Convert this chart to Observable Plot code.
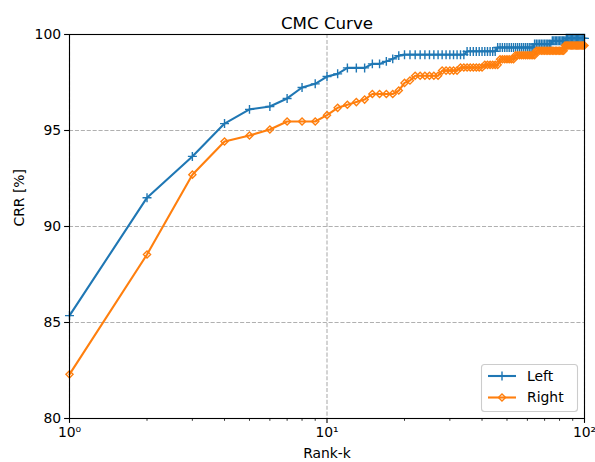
<!DOCTYPE html>
<html>
<head>
<meta charset="utf-8">
<script src="https://cdn.jsdelivr.net/npm/d3@7"></script>
<script src="https://cdn.jsdelivr.net/npm/@observablehq/plot@0.6"></script>
<style>
  body { margin: 0; background: #fff; }
  #wrap { position: relative; width: 595px; height: 462px; font-family: "DejaVu Sans", sans-serif; }
  #legend { position: absolute; left: 0; top: 0; pointer-events: none; }
</style>
</head>
<body>
<div id="wrap"></div>
<script>
// ---- data ----
const ranks = [1,2,3,4,5,6,7,8,9,10,11,12,13,14,15,16,17,18,19,20,
  21,22,23,24,25,26,27,28,29,30,31,32,33,34,35,36,37,38,39,40,
  41,42,43,44,45,46,47,48,49,50,51,52,53,54,55,56,57,58,59,60,
  61,62,63,64,65,66,67,68,69,70,71,72,73,74,75,76,77,78,79,80,
  81,82,83,84,85,86,87,88,89,90,91,92,93,94,95,96,97,98,99,100];

const leftCRR = [85.36,91.50,93.65,95.36,96.10,96.25,96.67,97.24,97.43,97.81,
  97.95,98.26,98.26,98.26,98.47,98.47,98.60,98.73,98.90,98.95,
  98.95,98.95,98.95,98.95,98.95,98.95,98.95,98.95,98.95,98.95,
  98.95,98.95,98.95,98.95,99.12,99.12,99.12,99.12,99.12,99.12,
  99.12,99.12,99.12,99.12,99.12,99.32,99.32,99.32,99.32,99.32,
  99.32,99.32,99.32,99.32,99.32,99.32,99.32,99.32,99.32,99.32,
  99.32,99.32,99.32,99.50,99.50,99.50,99.50,99.50,99.50,99.50,
  99.50,99.50,99.50,99.50,99.67,99.67,99.67,99.67,99.67,99.67,
  99.67,99.67,99.67,99.67,99.80,99.80,99.80,99.80,99.80,99.80,
  99.80,99.80,99.80,99.80,99.80,99.80,99.80,99.80,99.80,99.80];

const rightCRR = [82.30,88.54,92.70,94.43,94.74,95.05,95.47,95.47,95.47,95.80,
  96.18,96.34,96.48,96.61,96.90,96.90,96.90,96.90,97.08,97.48,
  97.60,97.85,97.85,97.85,97.85,97.85,97.85,98.12,98.12,98.12,
  98.12,98.12,98.28,98.28,98.28,98.28,98.28,98.28,98.28,98.28,
  98.42,98.42,98.42,98.42,98.42,98.42,98.71,98.71,98.71,98.71,
  98.71,98.71,98.71,98.92,98.92,98.92,98.92,98.92,98.92,98.92,
  98.92,98.92,98.92,98.92,99.15,99.15,99.15,99.15,99.15,99.15,
  99.15,99.15,99.15,99.15,99.15,99.15,99.15,99.15,99.15,99.15,
  99.15,99.15,99.15,99.43,99.43,99.43,99.43,99.43,99.43,99.43,
  99.43,99.43,99.43,99.43,99.43,99.43,99.43,99.43,99.43,99.43];

const seriesNames = ["Left", "Right"];
const seriesColors = ["#1f77b4", "#ff7f0e"];
const xMajorTicks = [1, 10, 100];
const xMajorLabels = ["10⁰", "10¹", "10²"];
const xMinorTicks = [2,3,4,5,6,7,8,9,20,30,40,50,60,70,80,90];
const yTicks = [80, 85, 90, 95, 100];
const titleText = "CMC Curve";
const xLabel = "Rank-k";
const yLabel = "CRR [%]";

// ---- build table ----
const leftData = ranks.map((r, i) => ({rank: r, crr: leftCRR[i], series: seriesNames[0]}));
const rightData = ranks.map((r, i) => ({rank: r, crr: rightCRR[i], series: seriesNames[1]}));

const FS = 13.9;
const PLUS_R = 3.0, DIAM_R = 3.2;
const chart = Plot.plot({
  width: 595,
  height: 462,
  marginLeft: 69,
  marginRight: 11,
  marginTop: 34,
  marginBottom: 44,
  style: {fontFamily: "DejaVu Sans, sans-serif", fontSize: FS + "px", background: "white", color: "black", overflow: "visible"},
  x: {type: "log", domain: [1, 100], label: null},
  y: {domain: [80, 100], label: null},
  marks: [
    Plot.gridX(xMajorTicks, {stroke: "#b0b0b0", strokeOpacity: 1, strokeWidth: 1.1, strokeDasharray: "4.1,1.8"}),
    Plot.gridY(yTicks, {stroke: "#b0b0b0", strokeOpacity: 1, strokeWidth: 1.1, strokeDasharray: "4.1,1.8"}),
    Plot.line(leftData, {x: "rank", y: "crr", stroke: seriesColors[0], strokeWidth: 2.1}),
    Plot.dot(leftData, {x: "rank", y: "crr", symbol: "plus", r: PLUS_R, stroke: seriesColors[0], strokeWidth: 1.4}),
    Plot.line(rightData, {x: "rank", y: "crr", stroke: seriesColors[1], strokeWidth: 2.1}),
    Plot.dot(rightData, {x: "rank", y: "crr", symbol: "diamond2", r: DIAM_R, fill: "none", stroke: seriesColors[1], strokeWidth: 1.4}),
    Plot.frame({stroke: "black", strokeWidth: 1.1}),
    Plot.axisX(xMajorTicks, {tickSize: 4.9, tickPadding: 3.5, strokeWidth: 1.1, tickFormat: d => xMajorLabels[xMajorTicks.indexOf(d)], fontSize: FS, label: null}),
    Plot.axisX(xMinorTicks, {tickSize: 2.8, strokeWidth: 0.8, tickFormat: () => "", label: null}),
    Plot.axisY(yTicks, {tickSize: 4.9, tickPadding: 3.5, strokeWidth: 1.1, fontSize: FS, label: null}),
    Plot.text([titleText], {frameAnchor: "top", dy: -17, fontSize: 16.7, fill: "black"}),
    Plot.text([xLabel], {frameAnchor: "bottom", dy: 39, fontSize: FS, fill: "black"}),
    Plot.text([yLabel], {frameAnchor: "left", dx: -50, rotate: -90, fontSize: FS, fill: "black"})
  ]
});

const wrap = document.getElementById("wrap");
wrap.appendChild(chart);

// ---- legend overlay (lower right, inside axes) ----
const leg = d3.select(wrap).append("svg")
  .attr("id", "legend").attr("width", 595).attr("height", 462);
const boxX = 481, boxY = 364, boxW = 96, boxH = 47;
leg.append("rect").attr("x", boxX + 0.5).attr("y", boxY + 0.5).attr("width", boxW).attr("height", boxH)
  .attr("rx", 3).attr("fill", "white").attr("fill-opacity", 0.8).attr("stroke", "#cccccc").attr("stroke-width", 1.1);
const symPaths = [
  d3.symbol(d3.symbolPlus, Math.PI * PLUS_R * PLUS_R)(),
  d3.symbol(d3.symbolDiamond2, Math.PI * DIAM_R * DIAM_R)()
];
seriesNames.forEach((name, i) => {
  const cy = boxY + 12 + i * 21.5;
  leg.append("line").attr("x1", boxX + 7).attr("x2", boxX + 35).attr("y1", cy).attr("y2", cy)
    .attr("stroke", seriesColors[i]).attr("stroke-width", 2.1);
  leg.append("path").attr("d", symPaths[i]).attr("transform", `translate(${boxX + 21},${cy})`)
    .attr("fill", "none").attr("stroke", seriesColors[i]).attr("stroke-width", 1.4);
  leg.append("text").attr("x", boxX + 46).attr("y", cy).attr("dy", "0.35em")
    .attr("font-family", "DejaVu Sans, sans-serif").attr("font-size", FS).attr("fill", "black").text(name);
});
</script>
</body>
</html>
